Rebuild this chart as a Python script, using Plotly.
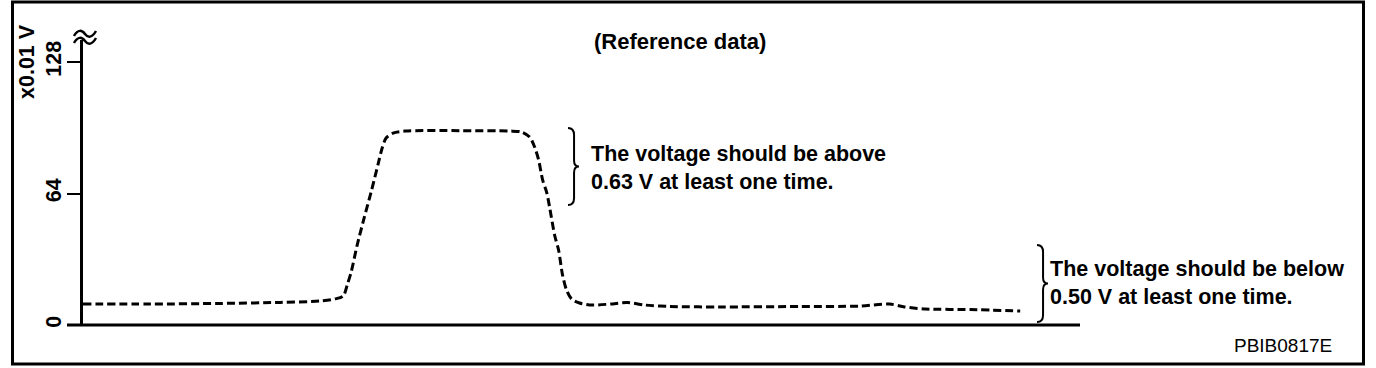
import plotly.graph_objects as go

# ---- data (time in arbitrary units, voltage in x0.01 V) ----
time_units = [0, 6.7, 13.7, 19.8, 23.8, 25.3, 26.1, 26.5, 26.9, 27.5, 28.2, 28.9,
              29.6, 30.0, 30.4, 31.1, 32.3, 37.8, 42.8, 44.0, 44.8, 45.3, 45.7,
              46.1, 46.5, 46.8, 47.3, 47.7, 48.1, 48.5, 49.0, 49.8, 51.1, 52.9,
              54.6, 56.4, 58.9, 63.9, 71.9, 77.9, 80.9, 82.4, 84.5, 89.0, 94.0]
voltage = [10.2, 10.2, 10.5, 11.0, 11.7, 12.7, 14.1, 19.5, 25.8, 38.9, 52.1, 64.7,
           78.3, 86.0, 91.0, 93.4, 94.4, 94.6, 94.4, 93.9, 91.5, 86.6, 80.3,
           70.6, 64.7, 57.4, 43.8, 36.5, 24.3, 17.0, 12.7, 10.7, 9.7, 10.2,
           10.9, 9.7, 9.0, 8.8, 9.0, 9.2, 10.2, 8.8, 7.8, 7.5, 6.8]
y_ticks = [0, 64, 128]
y_tick_labels = ["0", "64", "128"]

W, H = 1376, 368
L, R, T, B = 83, 296, 40, 43
PW, PH = W - L - R, H - T - B
Y_TOP = 128 * PH / (H - B - 62)


def px(x):
    return (x - L) / PW


def py(y):
    return (H - B - y) / PH


def path(cmds):
    out = []
    for c in cmds:
        if isinstance(c, str):
            out.append(c)
        else:
            out.append(f"{px(c[0]):.5f},{py(c[1]):.5f}")
    return " ".join(out)


fig = go.Figure()
fig.add_trace(go.Scatter(
    x=time_units, y=voltage, mode="lines",
    line=dict(color="black", width=3, dash="8px,4px", shape="spline", smoothing=0.8),
    hoverinfo="skip", showlegend=False,
))

FONT = "Liberation Sans, Arial, sans-serif"

shapes = []
# outer frame
shapes.append(dict(type="rect", xref="paper", yref="paper",
                   x0=px(12.5), x1=px(1363.5), y0=py(2), y1=py(364),
                   line=dict(color="black", width=3)))
# x axis line (extends slightly left of the y axis)
shapes.append(dict(type="line", xref="paper", yref="paper",
                   x0=px(67), x1=px(1080), y0=py(325), y1=py(325),
                   line=dict(color="black", width=3)))
# axis break symbol
for dy in (0, 7):
    shapes.append(dict(type="path", xref="paper", yref="paper",
                       path=path(["M", (74, 36 + dy), "C", (78, 29 + dy), (82, 30 + dy), (85, 34 + dy),
                                  "S", (92, 38 + dy), (96, 31 + dy)]),
                       line=dict(color="black", width=2.5)))


# braces
def brace(x0, x1, y0, y1):
    xm = x0 + (x1 - x0) * 0.55
    ym = (y0 + y1) / 2
    return path(["M", (x0, y0), "Q", (xm, y0), (xm, y0 + 7), "L", (xm, ym - 6),
                 "Q", (xm, ym), (x1, ym), "Q", (xm, ym), (xm, ym + 6),
                 "L", (xm, y1 - 7), "Q", (xm, y1), (x0, y1)])


shapes.append(dict(type="path", xref="paper", yref="paper", path=brace(568, 579, 128, 205),
                   line=dict(color="black", width=2)))
shapes.append(dict(type="path", xref="paper", yref="paper", path=brace(1037, 1048, 245, 322),
                   line=dict(color="black", width=2)))

annotations = [
    dict(text="(Reference data)", x=px(680), y=py(41), xref="paper", yref="paper",
         showarrow=False, xanchor="center", yanchor="middle",
         font=dict(family=FONT, size=22, color="black", weight="bold")),
    dict(text="The voltage should be above<br>0.63 V at least one time.", x=px(589), y=py(168),
         xref="paper", yref="paper", showarrow=False, xanchor="left", yanchor="middle", align="left",
         font=dict(family=FONT, size=21.5, color="black", weight="bold")),
    dict(text="The voltage should be below<br>0.50 V at least one time.", x=px(1048), y=py(283),
         xref="paper", yref="paper", showarrow=False, xanchor="left", yanchor="middle", align="left",
         font=dict(family=FONT, size=21.5, color="black", weight="bold")),
    dict(text="PBIB0817E", x=px(1334), y=py(345), xref="paper", yref="paper",
         showarrow=False, xanchor="right", yanchor="middle",
         font=dict(family=FONT, size=19, color="black")),
    dict(text="x0.01 V", x=px(27), y=py(62), xref="paper", yref="paper", textangle=-90,
         showarrow=False, xanchor="center", yanchor="middle",
         font=dict(family=FONT, size=21.5, color="black", weight="bold")),
]

fig.update_layout(
    width=W, height=H,
    margin=dict(l=L, r=R, t=T, b=B, pad=0),
    paper_bgcolor="white", plot_bgcolor="white",
    showlegend=False,
    shapes=shapes, annotations=annotations,
    xaxis=dict(range=[0, 100], showline=False, showgrid=False, zeroline=False,
               showticklabels=False, ticks=""),
    yaxis=dict(range=[0, Y_TOP], showline=True, linecolor="black", linewidth=3,
               showgrid=False, zeroline=False, ticks="outside", ticklen=13, tickwidth=2,
               tickcolor="black", tickvals=y_ticks, ticktext=y_tick_labels, tickangle=-90,
               ticklabelstandoff=-3,
               tickfont=dict(family=FONT, size=21.5, color="black", weight="bold")),
)

fig.write_html("out.html", config={"displayModeBar": False},
               post_script="document.body.style.margin='0';document.body.style.overflow='hidden';")
